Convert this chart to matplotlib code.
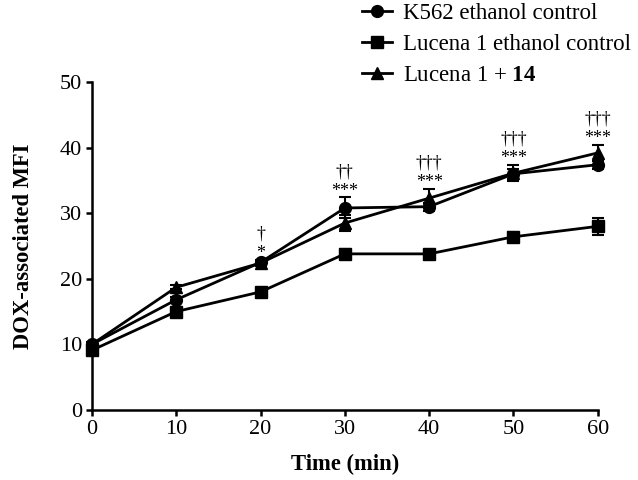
import matplotlib.pyplot as plt
from matplotlib.lines import Line2D
import numpy as np

plt.rcParams['font.family'] = ['Liberation Serif', 'DejaVu Serif']
plt.rcParams['mathtext.fontset'] = 'custom'
plt.rcParams['mathtext.rm'] = 'Liberation Serif'
plt.rcParams['mathtext.bf'] = 'Liberation Serif:bold'

time = [0, 10, 20, 30, 40, 50, 60]

k562 = [10.0, 16.8, 22.5, 30.8, 31.0, 36.0, 37.4]
k562_err = [0.3, 0.4, 0.4, 1.6, 0.6, 0.8, 0.6]

lucena = [9.1, 15.0, 18.0, 23.8, 23.8, 26.4, 28.0]
lucena_err = [0.3, 0.4, 0.4, 0.7, 0.4, 0.7, 1.3]

lucena14 = [10.0, 18.7, 22.4, 28.5, 32.3, 36.1, 39.2]
lucena14_err = [0.3, 0.3, 0.4, 1.2, 1.4, 1.2, 1.2]

stars = ['', '', '*', '***', '***', '***', '***']
daggers = ['', '', '\u2020', '\u2020\u2020', '\u2020\u2020\u2020', '\u2020\u2020\u2020', '\u2020\u2020\u2020']

labels = ['K562 ethanol control', 'Lucena 1 ethanol control', 'Lucena 1 + $\\mathbf{14}$']
markers = ['o', 's', '^']

fig = plt.figure(figsize=(6.38, 4.8), dpi=100)
ax = fig.add_axes([0.144, 0.146, 0.793, 0.683])

style = dict(color='black', lw=2.0, ms=8.5, capsize=4.5, elinewidth=1.5, capthick=1.5, clip_on=False)
for y, e, m in zip([k562, lucena, lucena14], [k562_err, lucena_err, lucena14_err], markers):
    ax.errorbar(time, y, yerr=e, marker=m, **style)

# significance marks sit just above the highest error bar at each time point
tops = np.maximum(np.array(k562) + k562_err, np.array(lucena14) + lucena14_err)
for t, top, s, d in zip(time, tops, stars, daggers):
    if s:
        ax.annotate(s, (t, top), xytext=(0, -1.5), textcoords='offset points',
                    ha='center', va='bottom', fontsize=13)
        ax.annotate(d, (t, top), xytext=(0, 12.5), textcoords='offset points',
                    ha='center', va='bottom', fontsize=13)

ax.set_xlim(0, 60)
ax.set_ylim(0, 50)
ax.set_xticks(time)
ax.set_yticks([0, 10, 20, 30, 40, 50])
ax.spines['top'].set_visible(False)
ax.spines['right'].set_visible(False)
ax.spines['left'].set_linewidth(1.8)
ax.spines['bottom'].set_linewidth(1.8)
ax.tick_params(direction='out', width=1.8, length=4, labelsize=16, pad=3)
ax.set_xlabel('Time (min)', fontsize=16.3, fontweight='bold', labelpad=11)
ax.set_ylabel('DOX-associated MFI', fontsize=16.3, fontweight='bold', labelpad=19)

handles = [Line2D([], [], color='black', lw=2.0, marker=m, ms=8.5) for m in markers]
leg = ax.legend(handles, labels, loc='lower left', bbox_to_anchor=(0.516, 0.96), frameon=False,
                fontsize=16.5, handlelength=1.3, handletextpad=0.48, labelspacing=0.44,
                borderaxespad=0)

fig.savefig('out.png', dpi=100)
